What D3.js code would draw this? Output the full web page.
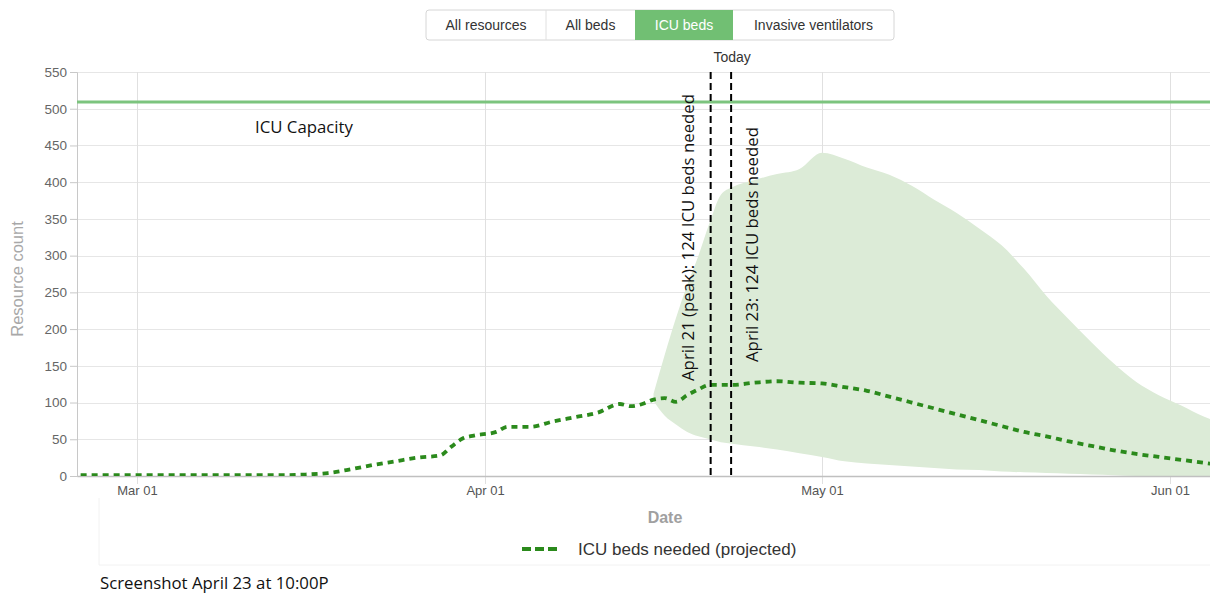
<!DOCTYPE html>
<html lang="en">
<head>
<meta charset="UTF-8" />
<style>
  body { margin: 0; background: #fff; }
  svg { display: block; }
</style>
</head>
<body>
<svg width="1210" height="594"></svg>
<script src="https://d3js.org/d3.v7.min.js"></script>
<script>
// ---- data ----
var tabs = ["All resources", "All beds", "ICU beds", "Invasive ventilators"];
var activeTab = "ICU beds";

var icuCapacity = 509;

var lineDates = ["2020-02-24","2020-02-28","2020-03-03","2020-03-07","2020-03-11","2020-03-14",
  "2020-03-16","2020-03-18","2020-03-20","2020-03-22","2020-03-24","2020-03-26","2020-03-28",
  "2020-03-29","2020-03-30","2020-03-31","2020-04-02","2020-04-03","2020-04-05","2020-04-07",
  "2020-04-09","2020-04-11","2020-04-13","2020-04-14","2020-04-15","2020-04-16","2020-04-17",
  "2020-04-18","2020-04-19","2020-04-20","2020-04-21","2020-04-22","2020-04-23","2020-04-25",
  "2020-04-27","2020-04-29","2020-05-01","2020-05-03","2020-05-05","2020-05-07","2020-05-09",
  "2020-05-11","2020-05-13","2020-05-15","2020-05-17","2020-05-19","2020-05-21","2020-05-23",
  "2020-05-25","2020-05-27","2020-05-29","2020-05-31","2020-06-02","2020-06-04","2020-06-05"];
var lineValues = [1,1,1,1,1,1,
  2,4,9,15,20,25,28,
  40,51,55,60,67,67,74,
  80,86,98,95,98,104,106,
  101,110,118,124,124,124,127,
  129,127,126,121,116,108,100,
  92,84,76,68,60,54,47,
  41,35,30,26,22,18,16];

var bandDates = ["2020-04-16","2020-04-17","2020-04-18","2020-04-19","2020-04-20","2020-04-21",
  "2020-04-22","2020-04-23","2020-04-25","2020-04-27","2020-04-29","2020-05-01","2020-05-03",
  "2020-05-05","2020-05-07","2020-05-09","2020-05-11","2020-05-13","2020-05-15","2020-05-17",
  "2020-05-19","2020-05-21","2020-05-23","2020-05-25","2020-05-27","2020-05-29","2020-05-31",
  "2020-06-02","2020-06-04","2020-06-05"];
var bandLower = [102,82,70,60,54,50,
  46,44,40,36,31,26,20,
  17,15,13,11,9,8,6,
  5,4,3,2,1,0,0,
  0,0,0];
var bandUpper = [112,165,215,260,300,345,
  383,393,403,411,418,440,432,
  420,410,395,376,358,337,314,
  282,245,213,182,153,128,110,
  96,81,75];

var yTicks = [0,50,100,150,200,250,300,350,400,450,500,550];
var xTickDates = ["2020-03-01","2020-04-01","2020-05-01","2020-06-01"];

var markers = [
  { date: "2020-04-21", label: "April 21 (peak): 124 ICU beds needed" },
  { date: "2020-04-23", label: "April 23: 124 ICU beds needed" }
];

// ---- setup ----
var parse = d3.utcParse("%Y-%m-%d");
var svg = d3.select("svg");
var plotLeft = 77, plotRight = 1210, plotTop = 72, plotBottom = 476;

var x = d3.scaleUtc()
  .domain([new Date(Date.UTC(2020,1,24,15,45)), new Date(Date.UTC(2020,5,4,13,27))])
  .range([plotLeft, plotRight]);
var y = d3.scaleLinear().domain([0, 550]).range([plotBottom, plotTop]);

var arial = "'Liberation Sans', Arial, sans-serif";
var calibri = "'Open Sans', 'Noto Sans', sans-serif";

svg.append("defs").append("clipPath").attr("id", "plot")
  .append("rect").attr("x", plotLeft).attr("y", plotTop - 5)
  .attr("width", plotRight - plotLeft).attr("height", plotBottom - plotTop + 5);

// ---- tab buttons ----
var tabWidths = [120, 89, 98, 161];
var tx = 426;
var tabG = svg.append("g");
tabG.append("rect").attr("x", 426).attr("y", 10).attr("width", 468).attr("height", 30)
  .attr("rx", 3).attr("fill", "#fff").attr("stroke", "#d6d6d6");
tabs.forEach(function (t, i) {
  var w = tabWidths[i];
  var on = t === activeTab;
  if (on) tabG.append("rect").attr("x", tx).attr("y", 10).attr("width", w).attr("height", 30).attr("fill", "#71bf73");
  else if (i > 0 && tabs[i - 1] !== activeTab) tabG.append("line").attr("x1", tx).attr("x2", tx).attr("y1", 10).attr("y2", 40).attr("stroke", "#e0e0e0");
  tabG.append("text").attr("x", tx + w / 2).attr("y", 30).attr("text-anchor", "middle")
    .style("font-family", arial).style("font-size", "14px")
    .attr("fill", on ? "#fff" : "#333").text(t);
  tx += w;
});

// ---- grid ----
svg.append("g").selectAll("line").data(yTicks).enter().append("line")
  .attr("x1", plotLeft).attr("x2", plotRight)
  .attr("y1", function (d) { return Math.round(y(d)) + 0.5; })
  .attr("y2", function (d) { return Math.round(y(d)) + 0.5; })
  .attr("stroke", "#e6e6e6");
svg.append("g").selectAll("line").data(xTickDates).enter().append("line")
  .attr("x1", function (d) { return Math.round(x(parse(d))) + 0.5; })
  .attr("x2", function (d) { return Math.round(x(parse(d))) + 0.5; })
  .attr("y1", plotTop).attr("y2", plotBottom + 8)
  .attr("stroke", "#e0e0e0");

// ---- band ----
var band = bandDates.map(function (d, i) { return { date: parse(d), lo: bandLower[i], hi: bandUpper[i] }; });
svg.append("path").datum(band)
  .attr("clip-path", "url(#plot)")
  .attr("fill", "#dcebd7")
  .attr("d", d3.area().curve(d3.curveMonotoneX)
    .x(function (d) { return x(d.date); })
    .y0(function (d) { return y(d.lo); })
    .y1(function (d) { return y(d.hi); }));

// ---- axes ----
var yAxis = svg.append("g").attr("transform", "translate(" + plotLeft + ",0)")
  .call(d3.axisLeft(y).tickValues(yTicks).tickSize(7).tickPadding(3));
yAxis.select(".domain").attr("stroke", "#c8c8c8");
yAxis.selectAll(".tick line").attr("stroke", "#c8c8c8");
yAxis.selectAll("text").style("font-family", arial).style("font-size", "13.5px").attr("fill", "#666");

var xAxis = svg.append("g").attr("transform", "translate(0," + plotBottom + ")")
  .call(d3.axisBottom(x).tickValues(xTickDates.map(parse)).tickFormat(d3.utcFormat("%b %d")).tickSize(0).tickPadding(10));
xAxis.select(".domain").attr("stroke", "#c0c0c0").attr("stroke-width", 1.5);
xAxis.selectAll("text").style("font-family", arial).style("font-size", "13px").attr("fill", "#555");

svg.append("text").attr("transform", "translate(23," + ((plotTop + plotBottom) / 2 + 5) + ") rotate(-90)")
  .attr("text-anchor", "middle").style("font-family", arial).style("font-size", "16.5px")
  .attr("fill", "#a8a8a8").text("Resource count");
svg.append("text").attr("x", 665).attr("y", 523).attr("text-anchor", "middle")
  .style("font-family", arial).style("font-size", "16px").style("font-weight", "bold")
  .attr("fill", "#a0a0a0").text("Date");

// ---- capacity ----
svg.append("line").attr("x1", plotLeft).attr("x2", plotRight)
  .attr("y1", y(icuCapacity)).attr("y2", y(icuCapacity))
  .attr("stroke", "#7cc47e").attr("stroke-width", 3);
svg.append("text").attr("x", 255).attr("y", 133)
  .style("font-family", calibri).style("font-size", "16.8px").attr("fill", "#111").text("ICU Capacity");

// ---- projected line ----
var pts = lineDates.map(function (d, i) { return { date: parse(d), v: lineValues[i] }; });
svg.append("path").datum(pts)
  .attr("clip-path", "url(#plot)")
  .attr("fill", "none").attr("stroke", "#2b8a1c").attr("stroke-width", 3.8)
  .attr("stroke-dasharray", "6,5")
  .attr("d", d3.line().curve(d3.curveMonotoneX)
    .x(function (d) { return x(d.date); })
    .y(function (d) { return y(d.v); }));

// ---- today markers ----
markers.forEach(function (m, i) {
  var mx = x(parse(m.date)) + (i === 0 ? 1 : -1);
  svg.append("line").attr("x1", mx).attr("x2", mx).attr("y1", plotTop).attr("y2", plotBottom)
    .attr("stroke", "#000").attr("stroke-width", 2).attr("stroke-dasharray", "7,4");
});
var todayX = x(parse(markers[1].date));
svg.append("text").attr("x", todayX).attr("y", 62).attr("text-anchor", "middle")
  .style("font-family", arial).style("font-size", "14px").attr("fill", "#333").text("Today");

svg.append("text").attr("transform", "translate(694,381) rotate(-90)")
  .style("font-family", calibri).style("font-size", "16.8px").attr("fill", "#111")
  .text(markers[0].label);
svg.append("text").attr("transform", "translate(758,362) rotate(-90)")
  .style("font-family", calibri).style("font-size", "16.8px").attr("fill", "#111")
  .text(markers[1].label);

// ---- container edge + legend ----
svg.append("path").attr("d", "M99,498V565H1210").attr("fill", "none").attr("stroke", "#f2f2f2");
svg.append("line").attr("x1", 522).attr("x2", 558).attr("y1", 549).attr("y2", 549)
  .attr("stroke", "#2b8a1c").attr("stroke-width", 4).attr("stroke-dasharray", "9,4");
svg.append("text").attr("x", 578).attr("y", 555)
  .style("font-family", arial).style("font-size", "17px").attr("fill", "#333")
  .text("ICU beds needed (projected)");

svg.append("text").attr("x", 100).attr("y", 589)
  .style("font-family", calibri).style("font-size", "16.8px").attr("fill", "#111")
  .text("Screenshot April 23 at 10:00P");
</script>
</body>
</html>
